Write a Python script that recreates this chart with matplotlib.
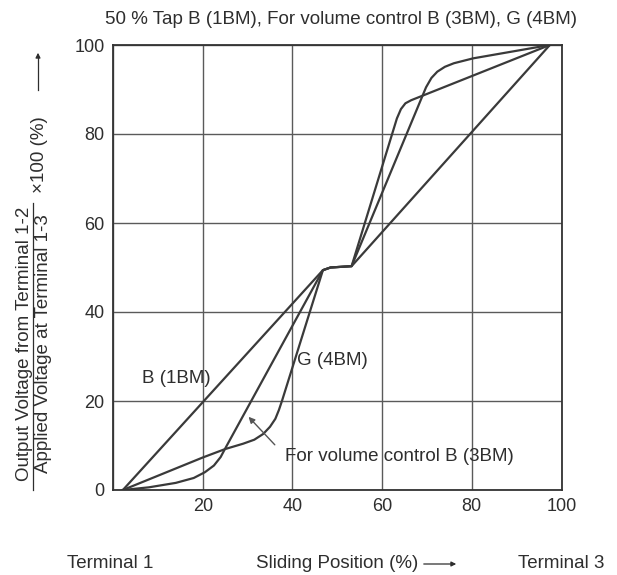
import matplotlib
matplotlib.use('Agg')
import matplotlib.pyplot as plt

plt.rcParams['font.family'] = ['Liberation Sans', 'DejaVu Sans']

# 50 % tap B (1BM): straight up to the tap, small step, straight to the end
b1_x = [2.2, 46.8, 48.5, 53.2, 97.4]
b1_y = [0, 49.4, 50.0, 50.3, 100]

# for volume control B (3BM)
b3_x = [2.2, 8, 14, 18, 20.5, 22.5, 24, 25, 46.8, 48.5, 53.2, 63.3, 64.2, 65.2, 66.5, 68, 97.4]
b3_y = [0, 0.6, 1.6, 2.7, 4.0, 5.5, 7.4, 9.3, 49.4, 50.0, 50.3, 83.5, 85.6, 86.9, 87.6, 88.2, 100]

# G (4BM)
g4_x = [2.2, 10, 20, 25, 29, 31.5, 33.5, 35, 36.2, 37, 37.7, 46.8, 48.5, 53.2,
        69.8, 71, 72.3, 74, 76, 80.3, 97.4]
g4_y = [0, 3.2, 7.3, 9.2, 10.4, 11.3, 12.6, 14.2, 16.0, 18.0, 20.1, 49.4, 50.0, 50.3,
        90.5, 92.6, 94.0, 95.1, 95.9, 97.0, 100]

ticks = [0, 20, 40, 60, 80, 100]
line_col = '#3a3a3a'
text_col = '#2e2e2e'
fs = 13.5


def fx(px):
    return px / 617


def fy(py):
    return 1 - py / 575


fig = plt.figure(figsize=(6.17, 5.75), dpi=100)
ax = fig.add_axes([fx(113), 85 / 575, 448.5 / 617, 445 / 575])

for xs, ys in [(b1_x, b1_y), (b3_x, b3_y), (g4_x, g4_y)]:
    ax.plot(xs, ys, color=line_col, lw=1.6, solid_joinstyle='round')

ax.set_xlim(0, 100)
ax.set_ylim(0, 100)
ax.set_xticks(ticks)
ax.set_yticks(ticks)
ax.set_xticklabels([''] + [str(t) for t in ticks[1:]])
ax.grid(True, color='#5a5a5a', lw=1.0)
ax.tick_params(length=0, labelsize=13, colors=text_col, pad=6)
for s in ax.spines.values():
    s.set_color('#333333')
    s.set_linewidth(1.3)

# labels inside the plot
ax.text(6.4, 25.1, 'B (1BM)', fontsize=fs, color=text_col, va='center')
ax.text(41.1, 29.1, 'G (4BM)', fontsize=fs, color=text_col, va='center')
ax.text(38.4, 7.5, 'For volume control B (3BM)', fontsize=fs, color=text_col, va='center')
ax.annotate('', xy=(29.8, 16.9), xytext=(36.5, 9.7),
            arrowprops=dict(arrowstyle='-|>', color='#555555', lw=1.0, mutation_scale=9))

# title
fig.text(fx(341), fy(20), '50 % Tap B (1BM), For volume control B (3BM), G (4BM)',
         fontsize=fs, color=text_col, ha='center', va='center')

# y label written as a fraction
fig.text(fx(24.5), fy(344), 'Output Voltage from Terminal 1-2', rotation=90,
         fontsize=fs, color=text_col, ha='center', va='center')
fig.text(fx(43.5), fy(344), 'Applied Voltage at Terminal 1-3', rotation=90,
         fontsize=fs, color=text_col, ha='center', va='center')
fig.add_artist(plt.Line2D([fx(33), fx(33)], [fy(490), fy(203)], color=text_col, lw=0.9))
fig.text(fx(40), fy(155), '×100 (%)', rotation=90,
         fontsize=fs, color=text_col, ha='center', va='center')
fig.add_artist(plt.Line2D([fx(38), fx(38)], [fy(90), fy(56)], color=text_col, lw=0.9))
ax.annotate('', xy=(fx(38), fy(50)), xytext=(fx(38), fy(60)), xycoords='figure fraction',
            arrowprops=dict(arrowstyle='-|>', color=text_col, lw=0.9, mutation_scale=7))

# bottom labels
fig.text(fx(110), fy(563), 'Terminal 1', fontsize=fs, color=text_col, ha='center', va='center')
fig.text(fx(337), fy(563), 'Sliding Position (%)', fontsize=fs, color=text_col,
         ha='center', va='center')
ax.annotate('', xy=(fx(459), fy(564)), xytext=(fx(421), fy(564)), xycoords='figure fraction',
            arrowprops=dict(arrowstyle='-|>', color=text_col, lw=0.9, mutation_scale=7))
fig.text(fx(561), fy(563), 'Terminal 3', fontsize=fs, color=text_col, ha='center', va='center')

fig.savefig('out.png', dpi=100)
